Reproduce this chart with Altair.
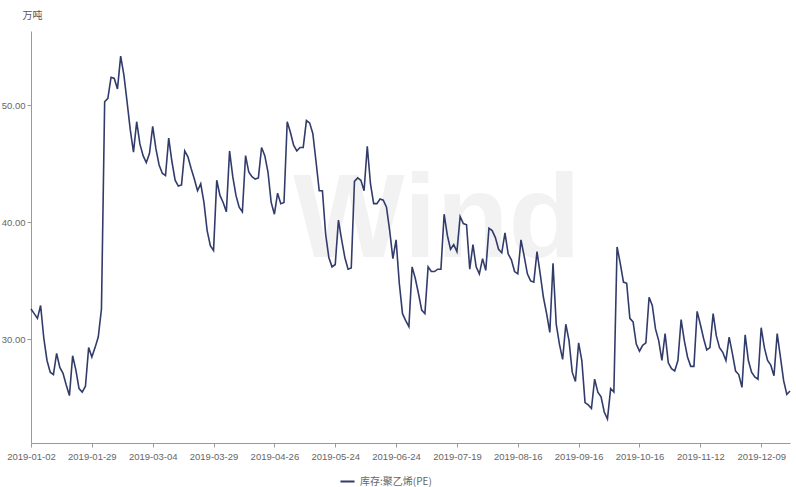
import altair as alt
import pandas as pd

series_name = "库存:聚乙烯(PE)"
unit_label = "万吨"
values = [32.6, 32.2, 31.8, 32.9, 30.1, 28.2, 27.2, 27.0, 28.8, 27.6, 27.1, 26.1, 25.2, 28.6, 27.4, 25.8, 25.5, 26.0, 29.3, 28.5,
          29.3, 30.2, 32.6, 50.3, 50.6, 52.4, 52.3, 51.4, 54.2, 52.6, 50.3, 47.9, 46.0, 48.6, 46.7, 45.7, 45.1, 45.9, 48.2, 46.3,
          44.9, 44.2, 44.0, 47.2, 45.2, 43.6, 43.1, 43.2, 46.1, 45.6, 44.6, 43.7, 42.7, 43.3, 41.7, 39.3, 38.0, 37.6, 43.6, 42.3,
          41.7, 40.9, 46.1, 43.9, 42.3, 41.3, 40.9, 45.7, 44.3, 43.9, 43.7, 43.8, 46.4, 45.7, 44.3, 41.7, 40.7, 42.5, 41.6, 41.7,
          48.6, 47.7, 46.6, 46.1, 46.4, 46.4, 48.7, 48.5, 47.6, 45.2, 42.7, 42.7, 39.0, 37.0, 36.2, 36.4, 40.2, 38.5, 37.0, 36.0,
          36.1, 43.5, 43.8, 43.6, 42.7, 46.5, 43.3, 41.6, 41.6, 42.0, 41.9, 41.3, 39.3, 36.9, 38.5, 34.8, 32.2, 31.6, 31.1, 36.2,
          35.2, 33.9, 32.5, 32.2, 36.2, 35.8, 35.8, 36.0, 36.0, 40.7, 38.9, 37.7, 38.1, 37.5, 40.5, 39.9, 39.8, 36.0, 38.1, 36.2,
          35.6, 36.9, 35.9, 39.5, 39.3, 38.7, 37.7, 37.4, 39.1, 37.3, 36.8, 35.8, 35.6, 38.5, 37.1, 35.6, 35.0, 34.9, 37.5, 35.6,
          33.6, 32.2, 30.6, 36.5, 31.3, 29.6, 28.3, 31.3, 29.9, 27.2, 26.4, 29.7, 28.2, 24.6, 24.4, 24.1, 26.6, 25.5, 25.1, 23.8,
          23.2, 25.8, 25.5, 37.9, 36.5, 34.9, 34.8, 31.8, 31.5, 29.6, 29.0, 29.5, 29.7, 33.6, 32.9, 30.9, 29.9, 28.2, 30.5, 28.0,
          27.5, 27.3, 28.2, 31.7, 29.9, 28.5, 27.7, 27.7, 32.4, 31.3, 30.1, 29.1, 29.3, 32.2, 30.3, 29.3, 28.9, 28.2, 30.2, 28.8,
          27.3, 27.0, 25.9, 30.4, 28.2, 27.2, 26.8, 26.6, 31.0, 29.3, 28.2, 27.8, 26.9, 30.5, 28.5, 26.5, 25.3, 25.6]
tick_labels = ["2019-01-02", "2019-01-29", "2019-03-04", "2019-03-29", "2019-04-26", "2019-05-24", "2019-06-24",
               "2019-07-19", "2019-08-16", "2019-09-16", "2019-10-16", "2019-11-12", "2019-12-09"]
tick_step = 19
y_ticks = [30, 40, 50]

df = pd.DataFrame({"idx": list(range(len(values))), "value": values, "series": series_name})
tick_vals = [i * tick_step for i in range(len(tick_labels))]
label_expr = "[" + ",".join('"%s"' % t for t in tick_labels) + "][round(datum.value/%d)]" % tick_step

FONT = "Noto Sans CJK SC"
NUMFONT = "Liberation Sans"
GRAY = "#666666"

watermark = alt.Chart(pd.DataFrame({"t": ["Wind"]})).mark_text(
    fontSize=118, fontWeight="bold", color="#f2f2f2", font="Liberation Sans", align="center", baseline="middle"
).encode(text="t:N", x=alt.value(406), y=alt.value(191))

line = alt.Chart(df).mark_line(strokeWidth=1.6, interpolate="linear").encode(
    x=alt.X("idx:Q", scale=alt.Scale(domain=[0, len(values) - 1], nice=False, zero=False),
            axis=alt.Axis(values=tick_vals, labelExpr=label_expr, title=None, grid=False,
                          labelOverlap=False, labelFlush=False, labelBound=False,
                          domainColor="#999999", tickColor="#999999", tickSize=4,
                          labelColor=GRAY, labelFontSize=9.5, labelFont=NUMFONT, labelPadding=4)),
    y=alt.Y("value:Q", scale=alt.Scale(domain=[21.15, 56.35], nice=False, zero=False),
            axis=alt.Axis(values=y_ticks, format=".2f", grid=False, title=unit_label,
                          titleAngle=0, titleX=1, titleY=-16, titleAlign="center", titleBaseline="middle",
                          titleFontSize=10, titleFontWeight="normal", titleColor="#555555", titleFont=FONT,
                          domainColor="#999999", tickColor="#999999", tickSize=4,
                          labelColor=GRAY, labelFontSize=9.5, labelFont=NUMFONT, labelPadding=2)),
    color=alt.Color("series:N", scale=alt.Scale(range=["#323c6b"]),
                    legend=alt.Legend(title=None, orient="none", legendX=308, legendY=442,
                                      symbolType="stroke", symbolStrokeWidth=2, symbolSize=200,
                                      labelFont=FONT, labelFontSize=10, labelColor=GRAY)),
)

chart = alt.layer(watermark, line).properties(
    width=759, height=412,
    padding={"left": 31, "top": 31, "right": 6, "bottom": 44},
    autosize=alt.AutoSizeParams(type="none"),
    background="white",
).configure_view(stroke=None)

chart.save("out.html", embed_options={"renderer": "svg", "actions": False})
